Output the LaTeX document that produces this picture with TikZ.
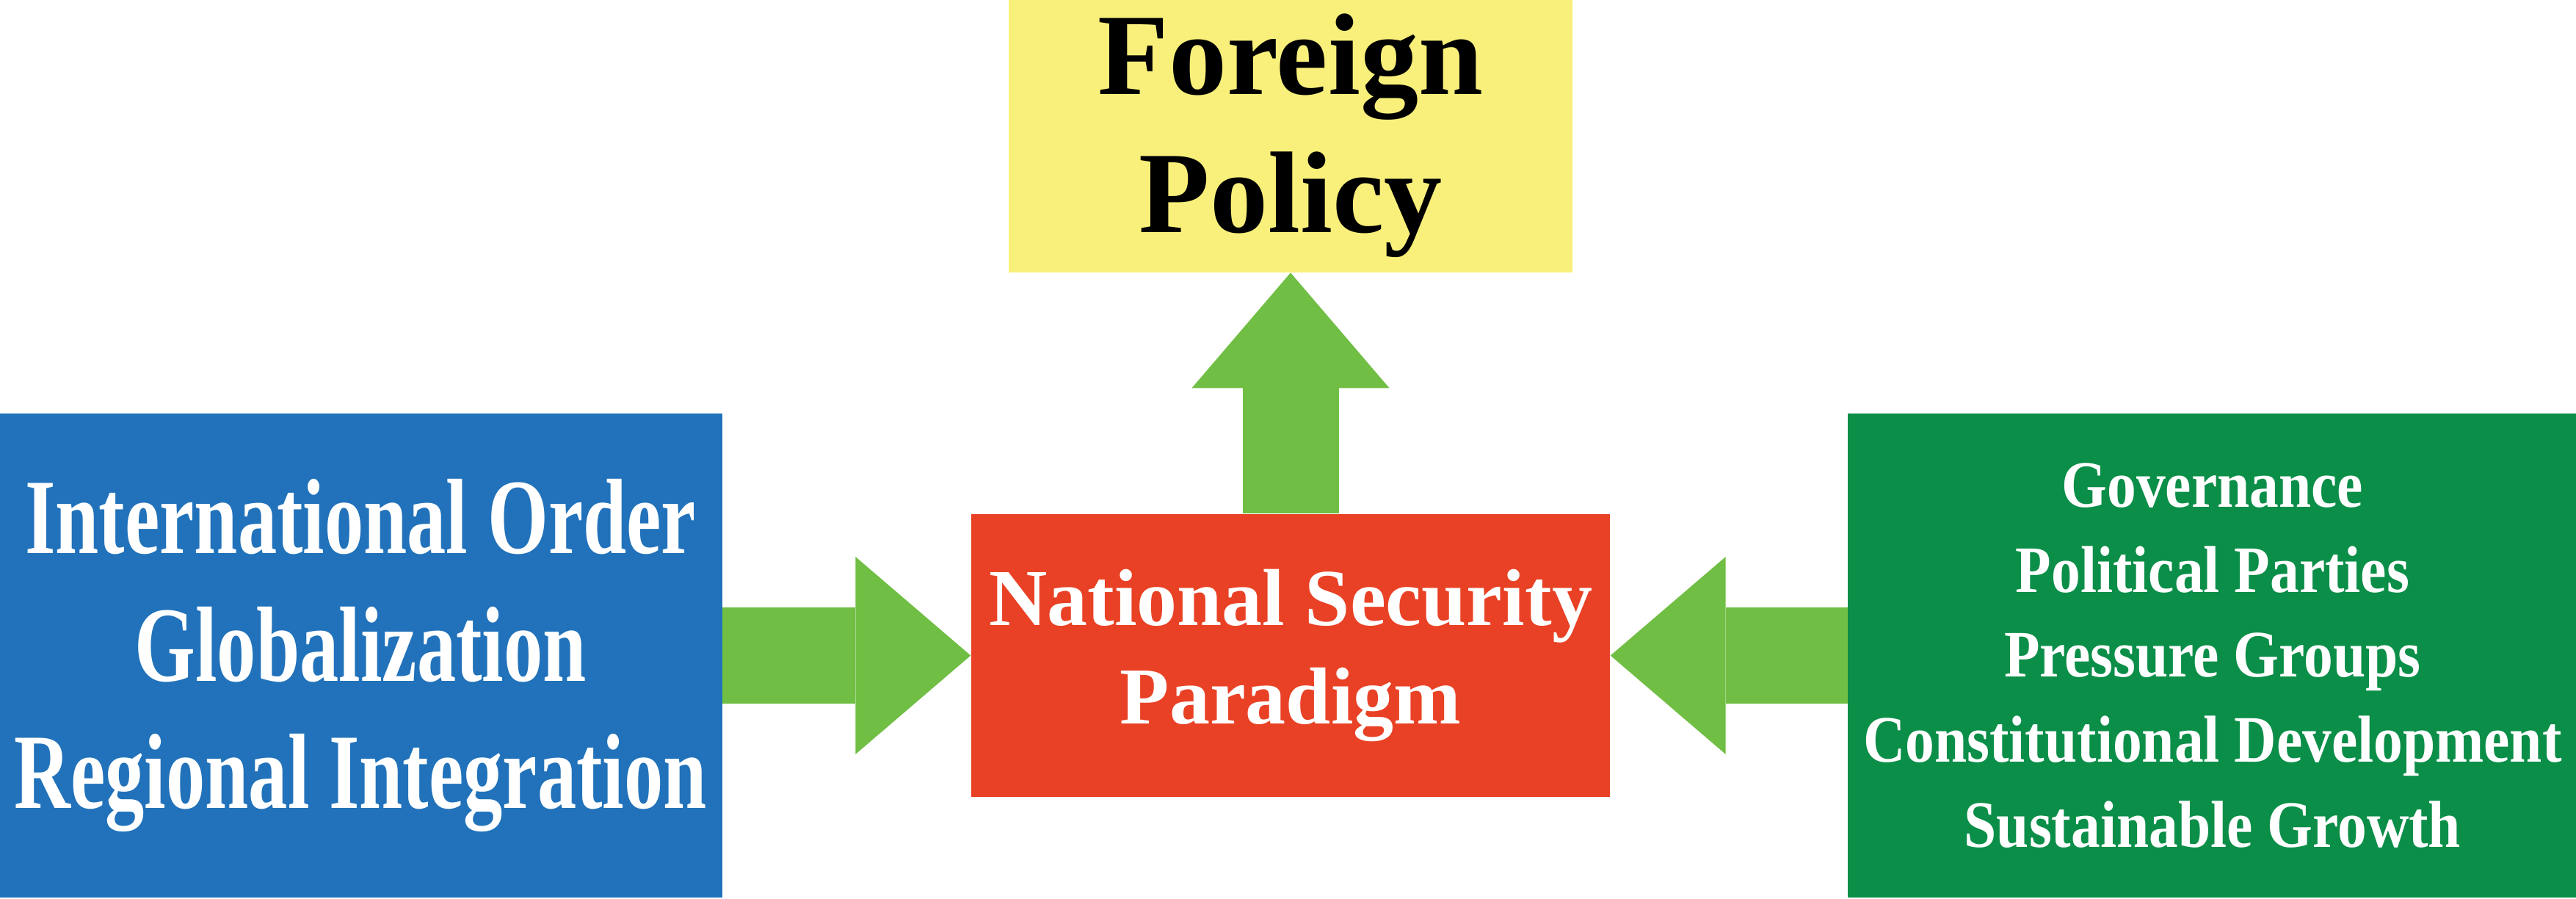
\documentclass[tikz,border=0pt]{standalone}
\usepackage{fontspec}
\usepackage{tikz}
\setmainfont{Liberation Serif}
\newfontfamily\narrowfont[FakeStretch=0.73]{Liberation Serif}
\newfontfamily\halfnarrowfont[FakeStretch=0.88]{Liberation Serif}
\usetikzlibrary{arrows.meta, positioning}
\definecolor{fpyellow}{HTML}{F9F07B}
\definecolor{extblue}{HTML}{2172BA}
\definecolor{nspred}{HTML}{E94125}
\definecolor{intgreen}{HTML}{0B8E48}
\definecolor{arrowgreen}{HTML}{70BF44}
\tikzstyle{block} = [rectangle, inner sep=0pt, align=center, text=white]
\tikzstyle{policy} = [block, minimum width=7.68cm, minimum height=3.72cm, fill=fpyellow, text=black, font=\bfseries\fontsize{45}{53.6}\selectfont]
\tikzstyle{external} = [block, minimum width=9.85cm, minimum height=6.59cm, fill=extblue, font=\narrowfont\bfseries\fontsize{41.5}{49.3}\selectfont]
\tikzstyle{paradigm} = [block, minimum width=8.70cm, minimum height=3.85cm, fill=nspred, font=\bfseries\fontsize{31.3}{38}\selectfont]
\tikzstyle{internal} = [block, minimum width=9.93cm, minimum height=6.59cm, fill=intgreen, font=\halfnarrowfont\bfseries\fontsize{25.7}{32.9}\selectfont]
\tikzstyle{arrow} = [line width=1.31cm, draw=arrowgreen, -{Triangle[width=2.69cm, length=1.57cm, line width=0pt 0 0]}]

\begin{document}
\begin{tikzpicture}
	\useasboundingbox (0,0) rectangle (35.09,12.23);
	\node (nsp) [paradigm] at (17.58,3.305) {National Security\\Paradigm};
	\node (fp) [policy, above=3.28cm of nsp] {Foreign\\Policy};
	\node (io) [external, left=3.38cm of nsp] {International Order\\Globalization\\Regional Integration};
	\node (gov) [internal, right=3.23cm of nsp] {Governance\\Political Parties\\Pressure Groups\\Constitutional Development\\Sustainable Growth};
	\draw [arrow] (io) -- (nsp);
	\draw [arrow] (gov) -- (nsp);
	\draw [arrow] (nsp) -- (fp);
\end{tikzpicture}
\end{document}
